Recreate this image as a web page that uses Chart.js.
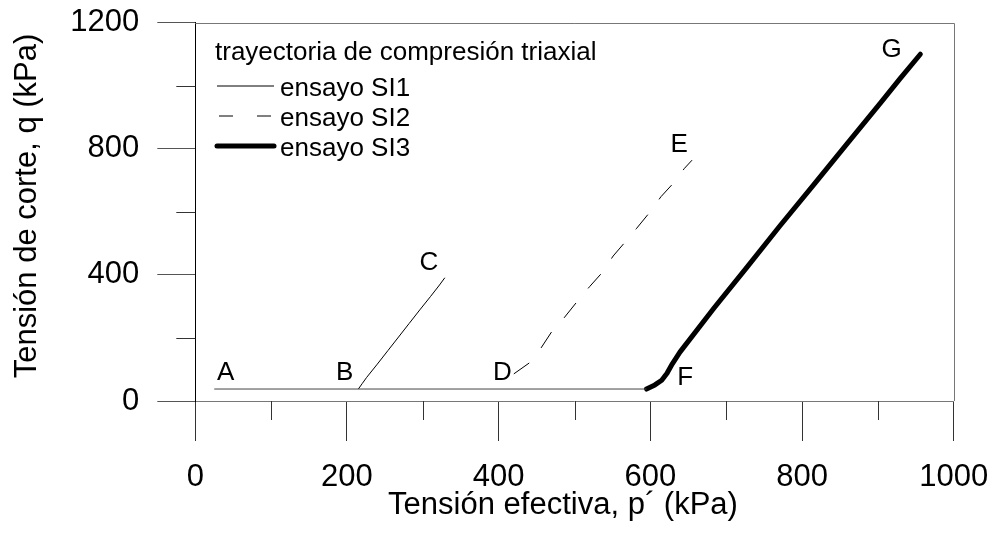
<!DOCTYPE html>
<html>
<head>
<meta charset="utf-8">
<script src="https://cdn.jsdelivr.net/npm/chart.js@4.4.1/dist/chart.umd.min.js"></script>
<style>
  body { margin: 0; background: #fff; }
</style>
</head>
<body>
<canvas id="path_chart" width="994" height="534"></canvas>
<script>
Chart.defaults.font.family = "'Liberation Sans', Arial, sans-serif";
Chart.defaults.color = '#000';

// isotropic consolidation, common to the three tests
const consol_p = [25, 595];
const consol_q = [38, 38];

// ensayo SI1 (B -> C)
const si1_p = [215, 220, 226, 240, 254, 268, 282, 296, 310, 322, 329];
const si1_q = [38, 55, 75, 117, 160, 203, 246, 289, 331, 368, 391];

// ensayo SI2 (D -> E)
const si2_p = [420, 440, 455, 470, 486, 502, 520, 536, 551, 567, 582, 599, 614, 630, 645, 655];
const si2_q = [86, 120, 165, 220, 263, 311, 363, 406, 460, 505, 548, 598, 648, 690, 738, 764];

// ensayo SI3 (F -> G)
const si3_p = [595, 606, 615, 622, 629, 639, 684, 727, 771, 815, 859, 903, 929, 956];
const si3_q = [38, 51, 66, 88, 118, 155, 295, 423, 556, 685, 815, 944, 1022, 1100];

// letters marking the path points
const point_names = ['A', 'B', 'C', 'D', 'E', 'F', 'G'];
const point_p = [40, 197, 308, 405, 638, 646, 918];
const point_q = [90, 90, 437, 90, 812, 72, 1115];

const p_ticks = [0, 200, 400, 600, 800, 1000];
const p_minor = [100, 300, 500, 700, 900];
const q_ticks = [0, 400, 800, 1200];
const q_minor = [200, 600, 1000];

const legend_title = 'trayectoria de compresión triaxial';
const x_title = 'Tensión efectiva, p´ (kPa)';
const y_title = 'Tensión de corte, q (kPa)';


function to_points(ps, qs) {
  return ps.map((p, i) => ({ x: p, y: qs[i] }));
}


const extras = {
  id: 'extras',
  afterDraw(chart) {
    const ctx = chart.ctx;
    const xs = chart.scales.x;
    const ys = chart.scales.y;
    const area = chart.chartArea;
    ctx.save();

    // top and right edges of the frame
    ctx.strokeStyle = '#777';
    ctx.lineWidth = 1;
    ctx.beginPath();
    ctx.moveTo(area.left, Math.round(area.top) + 0.5);
    ctx.lineTo(Math.round(area.right) + 0.5, Math.round(area.top) + 0.5);
    ctx.lineTo(Math.round(area.right) + 0.5, area.bottom);
    ctx.stroke();

    // minor ticks
    ctx.strokeStyle = '#333';
    ctx.beginPath();
    for (const v of p_minor) {
      const x = Math.round(xs.getPixelForValue(v)) + 0.5;
      ctx.moveTo(x, area.bottom);
      ctx.lineTo(x, area.bottom + 19);
    }
    for (const v of q_minor) {
      const y = Math.round(ys.getPixelForValue(v)) + 0.5;
      ctx.moveTo(area.left - 19, y);
      ctx.lineTo(area.left, y);
    }
    ctx.stroke();

    // legend inside the plot
    ctx.fillStyle = '#000';
    ctx.font = "26px 'Liberation Sans', Arial, sans-serif";
    ctx.textAlign = 'left';
    ctx.textBaseline = 'alphabetic';
    ctx.fillText(legend_title, 215, 60);
    const entries = chart.data.datasets.filter(ds => ds.label);
    entries.forEach((ds, i) => {
      const base = 96 + i * 30;
      const ly = base - 10;
      ctx.strokeStyle = ds.borderColor;
      ctx.lineWidth = ds.borderWidth;
      ctx.lineCap = ds.borderWidth > 2 ? 'round' : 'butt';
      ctx.setLineDash(ds.borderDash ? [14, 24] : []);
      ctx.beginPath();
      ctx.moveTo(ds.borderDash ? 219 : 217, ly);
      ctx.lineTo(274, ly);
      ctx.stroke();
      ctx.setLineDash([]);
      ctx.fillText(ds.label, 280, base);
    });

    // point letters
    ctx.textAlign = 'center';
    ctx.textBaseline = 'middle';
    point_names.forEach((name, i) => {
      ctx.fillText(name, xs.getPixelForValue(point_p[i]), ys.getPixelForValue(point_q[i]));
    });

    // axis titles
    ctx.font = "31px 'Liberation Sans', Arial, sans-serif";
    ctx.textBaseline = 'alphabetic';
    ctx.fillText(x_title, 563, 514);
    ctx.translate(36, 206);
    ctx.rotate(-Math.PI / 2);
    ctx.fillText(y_title, 0, 0);

    ctx.restore();
  }
};


new Chart(document.getElementById('path_chart'), {
  type: 'scatter',
  data: {
    datasets: [
      {
        data: to_points(consol_p, consol_q),
        showLine: true,
        borderColor: '#444',
        borderWidth: 1,
        pointRadius: 0,
      },
      {
        label: 'ensayo SI1',
        data: to_points(si1_p, si1_q),
        showLine: true,
        borderColor: '#000',
        borderWidth: 1,
        pointRadius: 0,
      },
      {
        label: 'ensayo SI2',
        data: to_points(si2_p, si2_q),
        showLine: true,
        borderColor: '#000',
        borderWidth: 1,
        borderDash: [19, 19],
        pointRadius: 0,
      },
      {
        label: 'ensayo SI3',
        data: to_points(si3_p, si3_q),
        showLine: true,
        borderColor: '#000',
        borderWidth: 5,
        borderCapStyle: 'round',
        borderJoinStyle: 'round',
        pointRadius: 0,
      },
    ]
  },
  options: {
    responsive: false,
    animation: false,
    devicePixelRatio: 1,
    layout: { padding: { left: 0, top: 22.7, right: 40.3, bottom: 0 } },
    plugins: {
      legend: { display: false },
      tooltip: { enabled: false },
    },
    scales: {
      x: {
        type: 'linear',
        min: 0,
        max: 1000,
        afterBuildTicks: scale => { scale.ticks = p_ticks.map(v => ({ value: v })); },
        afterFit: scale => {
          scale.height = 133;
          scale.paddingLeft = 0;
          scale.paddingRight = 0;
        },
        ticks: { font: { size: 31 }, padding: 18, maxRotation: 0, callback: v => String(v) },
        grid: { drawOnChartArea: false, tickLength: 40, color: '#333' },
        border: { color: '#777', width: 1 },
      },
      y: {
        type: 'linear',
        min: 0,
        max: 1200,
        afterBuildTicks: scale => { scale.ticks = q_ticks.map(v => ({ value: v })); },
        afterFit: scale => {
          scale.width = 195.3;
          scale.paddingTop = 0;
          scale.paddingBottom = 0;
        },
        ticks: { font: { size: 31 }, padding: 18, callback: v => String(v) },
        grid: { drawOnChartArea: false, tickLength: 38, color: '#555' },
        border: { color: '#000', width: 1 },
      },
    },
  },
  plugins: [extras],
});
</script>
</body>
</html>
